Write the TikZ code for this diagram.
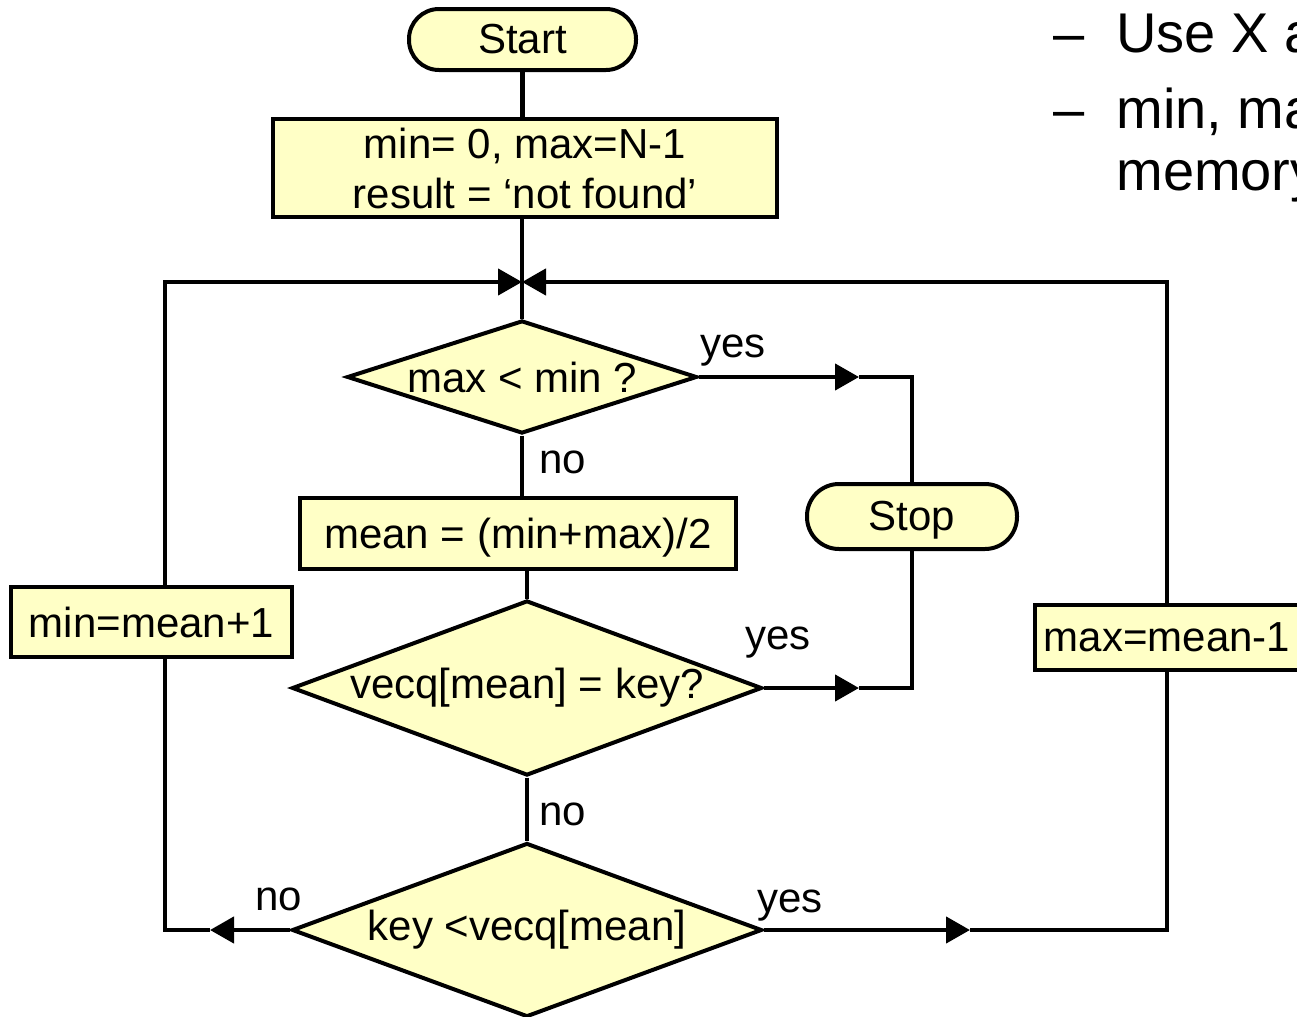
\documentclass[tikz,border=0pt]{standalone}
\usepackage{fontspec}
\setmainfont{Liberation Sans}
\usetikzlibrary{shapes.geometric,arrows.meta}
\definecolor{boxfill}{RGB}{255,255,198}
\begin{document}
\begin{tikzpicture}[x=0.5pt,y=-0.5pt,
  every node/.style={font=\fontsize{21}{25}\selectfont},
  proc/.style={draw, line width=2pt, fill=boxfill, inner sep=0pt},
  term/.style={proc, rounded corners=15pt},
  dec/.style={draw, line width=2pt, fill=boxfill, diamond, inner sep=0pt},
  line/.style={line width=2.2pt},
  flow/.style={line, -{Triangle[length=12pt,width=13pt]}},
  lbl/.style={inner sep=0pt},
  side/.style={inner sep=0pt, font=\fontsize{28}{32}\selectfont}]
\clip (0,0) rectangle (1297,1017);
% nodes
\node[term, minimum width=113.5pt, minimum height=30.5pt] (start) at (522.5,39.5) {Start};
\node[proc, minimum width=252pt, minimum height=49pt, align=center] (init) at (525,168) {min= 0, max=N-1\\result = ‘not found’};
\node[dec, aspect=3.1, minimum width=175pt, minimum height=56.5pt] (d1) at (522,377) {max < min ?};
\node[proc, minimum width=218pt, minimum height=35.5pt, text height=18pt, text depth=3pt] (mean) at (518,533.5) {mean = (min+max)/2};
\node[dec, aspect=2.69, minimum width=235pt, minimum height=87.5pt] (d2) at (527,688) {vecq[mean] = key?};
\node[term, minimum width=105pt, minimum height=32.5pt, rounded corners=16pt, text height=17pt, text depth=3pt] (stop) at (912,516.5) {Stop};
\node[dec, aspect=2.69, minimum width=235pt, minimum height=87pt] (d3) at (527,930) {key <vecq[mean]};
\node[proc, minimum width=140.5pt, minimum height=35pt] (minb) at (151.5,622) {min=mean+1};
\node[proc, minimum width=132.5pt, minimum height=32.5pt] (maxb) at (1167,637.5) {max=mean-1};
% helper coordinates
\coordinate (m) at (522,282);
\coordinate (y1) at (859,377);
\coordinate (y2) at (859,688);
\coordinate (y3) at (970,930);
\coordinate (n3) at (210,930);
% connectors
\draw[line] (start.south) -- (start.south |- init.north);
\draw[line] (init.south -| d1.north) -- (d1.north);
\draw[flow] ([xshift=6.75pt]minb.north) |- (m);
\draw[flow] (maxb.north) |- (m);
\draw[flow] (d1.east) -- (y1);
\draw[line] (y1) -| (stop.north);
\draw[line] (d1.south) -- (d1.south |- mean.north);
\draw[line] (mean.south -| d2.north) -- (d2.north);
\draw[flow] (d2.east) -- (y2);
\draw[line] (y2) -| (stop.south);
\draw[line] (d2) -- (d3);
\draw[flow] (d3.east) -- (y3);
\draw[line] (y3) -| (maxb.south);
\draw[flow] (d3.west) -- (n3);
\draw[line] (n3) -| ([xshift=6.75pt]minb.south);
% labels
\node[lbl] (l1) at (733,351) {yes};
\node[lbl] (l2) at (563,462) {no};
\node[lbl] (l3) at (778,643) {yes};
\node[lbl] (l4) at (563,814) {no};
\node[lbl] (l5) at (279,899) {no};
\node[lbl] (l6) at (790,906) {yes};
% side text
\node[side, anchor=base west] (da) at (1053,52) {–};
\node[side, anchor=base west] (db) at (1053,128) {–};
\node[side, anchor=base west] (t1) at (1116,52) {Use X a};
\node[side, anchor=base west] (t2) at (1116,128) {min, ma};
\node[side, anchor=base west] (t3) at (1116,190) {memory};
\end{tikzpicture}
\end{document}
